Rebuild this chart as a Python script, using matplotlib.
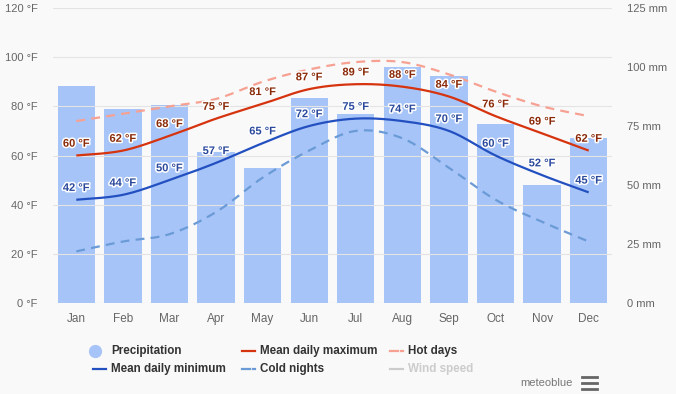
import matplotlib
matplotlib.use("Agg")
import matplotlib.pyplot as plt
import matplotlib.patheffects as pe
from matplotlib.lines import Line2D
import numpy as np

plt.rcParams["font.family"] = ["Liberation Sans", "DejaVu Sans"]

months = ["Jan", "Feb", "Mar", "Apr", "May", "Jun",
          "Jul", "Aug", "Sep", "Oct", "Nov", "Dec"]
precip_mm = [92, 82, 84, 64, 57, 87, 80, 100, 96, 76, 50, 70]
mean_max = [60, 62, 68, 75, 81, 87, 89, 88, 84, 76, 69, 62]
mean_min = [42, 44, 50, 57, 65, 72, 75, 74, 70, 60, 52, 45]
hot_days = [74, 77, 80, 83, 90, 95, 98, 98, 93, 86, 80, 76]
cold_nights = [21, 25, 28, 37, 51, 62, 70, 67, 55, 42, 33, 25]
temp_ticks = [0, 20, 40, 60, 80, 100, 120]
mm_ticks = [0, 25, 50, 75, 100, 125]

BG = "#f9f9f9"
BAR = "#a6c4f8"
MAX_C = "#d6330f"
MIN_C = "#2350c0"
HOT_C = "#f7a193"
COLD_C = "#6b9bd6"
TICK_C = "#666666"


def spline(y, n=30):
    """Smooth curve through the points (Catmull-Rom as cubic bezier)."""
    x = np.arange(len(y), dtype=float)
    p = np.column_stack([x, np.asarray(y, dtype=float)])
    p = np.vstack([p[0], p, p[-1]])
    t = np.linspace(0, 1, n)[:, None]
    out = []
    for i in range(1, len(p) - 2):
        p0, p1, p2, p3 = p[i - 1], p[i], p[i + 1], p[i + 2]
        c1 = p1 + (p2 - p0) / 6
        c2 = p2 - (p3 - p1) / 6
        seg = ((1 - t) ** 3) * p1 + 3 * ((1 - t) ** 2) * t * c1 \
            + 3 * (1 - t) * t ** 2 * c2 + t ** 3 * p2
        out.append(seg if i == 1 else seg[1:])
    out = np.vstack(out)
    return out[:, 0], out[:, 1]


fig = plt.figure(figsize=(6.76, 3.94), dpi=100, facecolor=BG)
W, H = 676, 394
ax = fig.add_axes([53 / W, 1 - 303 / H, (612 - 53) / W, (303 - 8) / H])
ax.set_facecolor(BG)
ax2 = ax.twinx()
ax.set_zorder(2)
ax.patch.set_visible(False)

x = np.arange(12)
ax2.bar(x, precip_mm, width=0.8, color=BAR, zorder=1)
ax2.set_ylim(0, 125)
ax2.set_yticks(mm_ticks)
ax2.set_yticklabels([f"{v} mm" for v in mm_ticks])

for vals, col, dashed in [(hot_days, HOT_C, True),
                          (cold_nights, COLD_C, True),
                          (mean_max, MAX_C, False),
                          (mean_min, MIN_C, False)]:
    sx, sy = spline(vals)
    line, = ax.plot(sx, sy, color=col, lw=1.6, zorder=3, solid_capstyle="butt")
    if dashed:
        line.set_dashes((4, 2.8))

stroke = [pe.withStroke(linewidth=2.2, foreground="white")]
for i in range(12):
    ax.annotate(f"{mean_max[i]} °F", (i, mean_max[i]), xytext=(0, 8.5),
                textcoords="offset points", ha="center", va="center",
                fontsize=8, fontweight="bold", color="#8a2a08",
                path_effects=stroke, zorder=5)
    ax.annotate(f"{mean_min[i]} °F", (i, mean_min[i]), xytext=(0, 8.5),
                textcoords="offset points", ha="center", va="center",
                fontsize=8, fontweight="bold", color="#2b4a9e",
                path_effects=stroke, zorder=5)

ax.set_xlim(-0.5, 11.5)
ax.set_ylim(0, 120)
ax.set_yticks(temp_ticks)
ax.set_yticklabels([f"{v} °F" for v in temp_ticks])
ax.set_xticks(x)
ax.set_xticklabels(months)
ax.grid(axis="y", color="#e4e4e4", lw=0.8)
ax.set_axisbelow(True)
ax2.grid(False)

for a in (ax, ax2):
    for s in a.spines.values():
        s.set_visible(False)
    a.tick_params(length=0, labelsize=8, colors=TICK_C)
ax.tick_params(axis="y", pad=11)
ax.tick_params(axis="x", pad=7.5, labelsize=8.5)
ax2.tick_params(axis="y", pad=11)

# legend, drawn by hand in pixel positions
def fx(px):
    return px / W


def fy(py):
    return 1 - py / H


leg_font = dict(fontsize=8.4, fontweight="bold", va="center", ha="left")
fig.add_artist(Line2D([fx(95)], [fy(351)], marker="o", ms=8.5, color=BAR, lw=0))
fig.text(fx(111), fy(351), "Precipitation", color="#333333", **leg_font)
items = [(242, 351, MAX_C, "-", "Mean daily maximum", "#333333"),
         (390, 351, HOT_C, "--", "Hot days", "#333333"),
         (93, 369, MIN_C, "-", "Mean daily minimum", "#333333"),
         (242, 369, COLD_C, "--", "Cold nights", "#333333"),
         (390, 369, "#cccccc", "-", "Wind speed", "#cccccc")]
for px, py, col, ls, label, tcol in items:
    if ls == "--":
        fig.add_artist(Line2D([fx(px), fx(px + 8)], [fy(py)] * 2, color=col, lw=1.6))
        fig.add_artist(Line2D([fx(px + 11), fx(px + 13)], [fy(py)] * 2, color=col, lw=1.6))
    else:
        fig.add_artist(Line2D([fx(px), fx(px + 13)], [fy(py)] * 2, color=col, lw=1.6))
    fig.text(fx(px + 18), fy(py), label, color=tcol, **leg_font)

fig.text(fx(573), fy(383), "meteoblue", color="#777777", fontsize=8,
         ha="right", va="center")
for py in (377, 383, 389):
    fig.add_artist(Line2D([fx(582), fx(597)], [fy(py)] * 2, color="#666666", lw=2))

fig.savefig("out.png", dpi=100, facecolor=BG)
